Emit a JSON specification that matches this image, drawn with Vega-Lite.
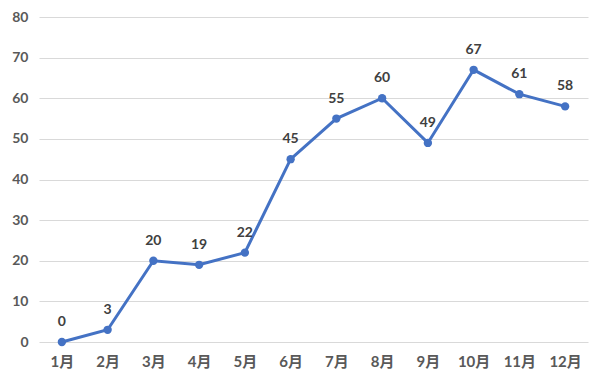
{
  "$schema": "https://vega.github.io/schema/vega-lite/v6.json",
  "autosize": {"type": "none"},
  "width": 549,
  "height": 325,
  "padding": {"left": 39, "top": 17, "right": 15, "bottom": 42},
  "background": "white",
  "data": {"values": [
    {"month": "1月", "value": 0},
    {"month": "2月", "value": 3},
    {"month": "3月", "value": 20},
    {"month": "4月", "value": 19},
    {"month": "5月", "value": 22},
    {"month": "6月", "value": 45},
    {"month": "7月", "value": 55},
    {"month": "8月", "value": 60},
    {"month": "9月", "value": 49},
    {"month": "10月", "value": 67},
    {"month": "11月", "value": 61},
    {"month": "12月", "value": 58}
  ]},
  "encoding": {
    "x": {"field": "month", "type": "ordinal", "sort": null,
      "scale": {"type": "point", "padding": 0.5},
      "axis": {"title": null, "labelAngle": 0, "domain": false, "ticks": false, "grid": false,
        "labelPadding": 12, "labelFontSize": 15, "labelFontWeight": "bold", "labelColor": "#595959",
        "labelFont": "Lato, Noto Sans CJK SC"}},
    "y": {"field": "value", "type": "quantitative",
      "scale": {"domain": [0, 80]},
      "axis": {"title": null, "values": [0,10,20,30,40,50,60,70,80], "domain": false, "ticks": false,
        "gridColor": "#d9d9d9", "gridWidth": 1, "labelPadding": 11, "labelFontSize": 14,
        "labelFontWeight": "bold", "labelColor": "#595959", "labelFont": "Lato, Noto Sans CJK SC"}}
  },
  "layer": [
    {"mark": {"type": "line", "color": "#4472C4", "strokeWidth": 3,
      "point": {"filled": true, "size": 70, "color": "#4472C4"}}},
    {"mark": {"type": "text", "dy": -20, "baseline": "middle", "fontSize": 14, "fontWeight": "bold",
      "color": "#404040", "font": "Lato, Noto Sans CJK SC"},
     "encoding": {"text": {"field": "value"}}}
  ],
  "config": {"view": {"stroke": null}}
}
